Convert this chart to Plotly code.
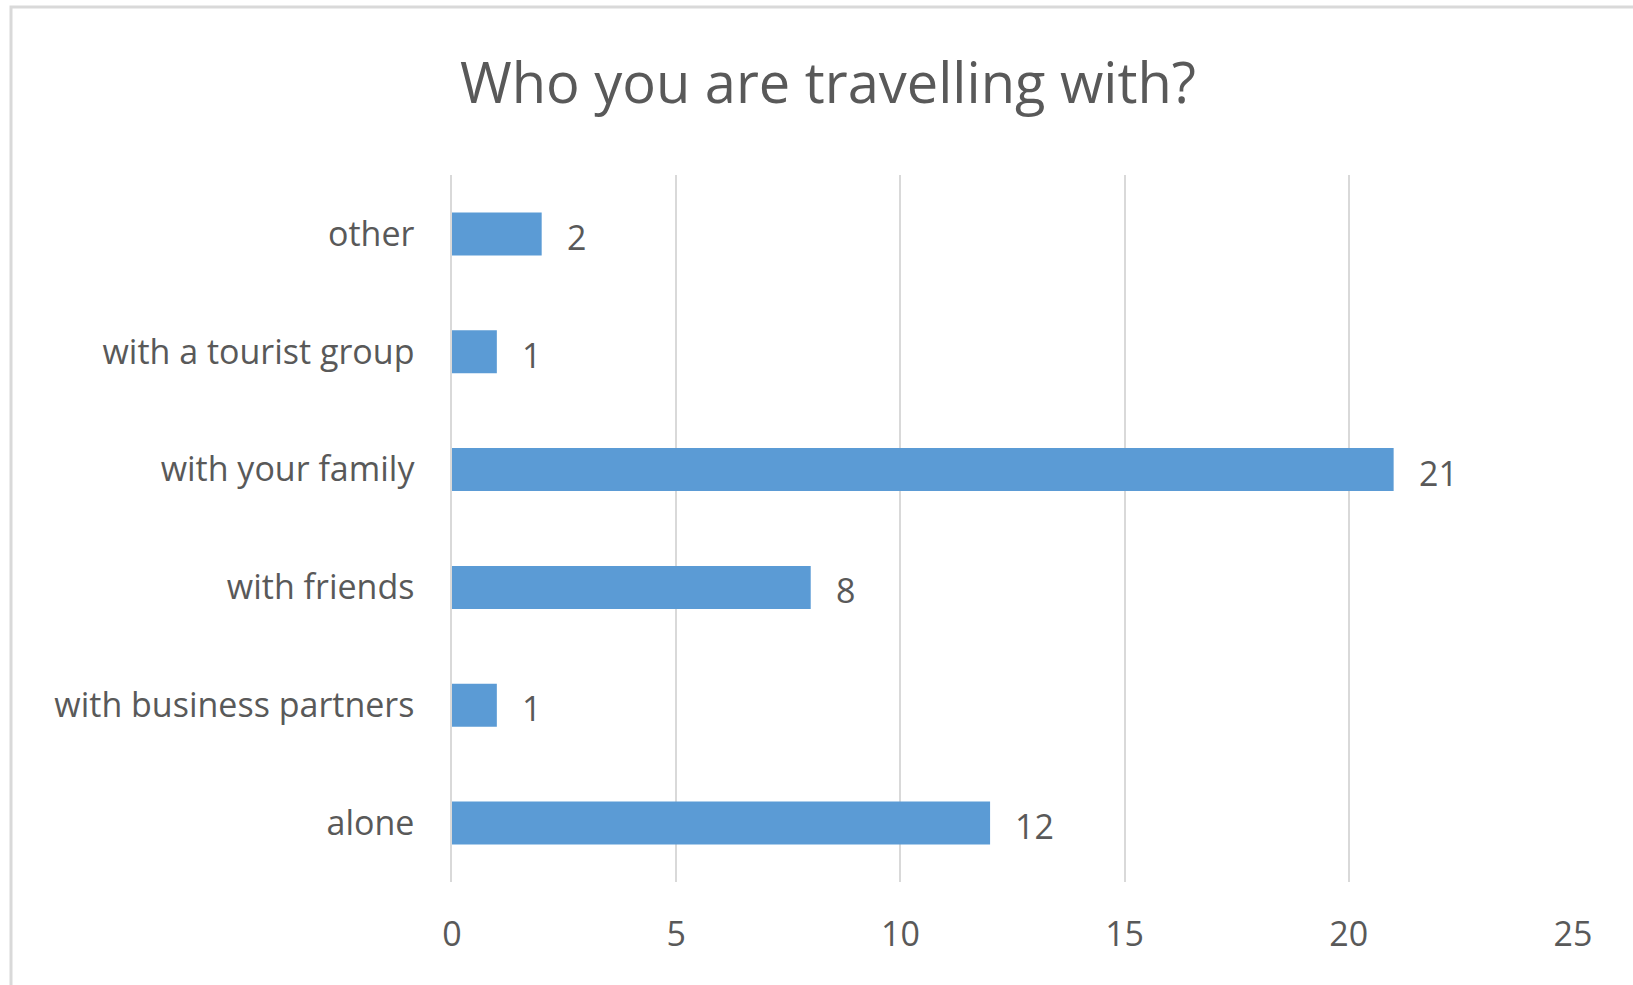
import plotly.graph_objects as go

categories = ["alone", "with business partners", "with friends", "with your family", "with a tourist group", "other"]
values = [12, 1, 8, 21, 1, 2]
x_ticks = [0, 5, 10, 15, 20, 25]
title_text = "Who you are travelling with?"

FONT = "Open Sans, Lato, sans-serif"
TXT = "#595959"
BAR = "#5b9bd5"
GRID = "#d9d9d9"

fig = go.Figure()
fig.add_trace(go.Bar(
    x=values, y=categories, orientation="h",
    marker=dict(color=BAR, line=dict(width=0)),
    hoverinfo="skip",
))

for c, v in zip(categories, values):
    fig.add_annotation(x=v, y=c, text=str(v), showarrow=False,
                       xanchor="left", yanchor="middle", xshift=23, yshift=-3,
                       font=dict(family=FONT, size=34, color=TXT))

fig.add_shape(type="rect", xref="paper", yref="paper",
              x0=-0.3934, x1=2, y0=-1, y1=1.2376,
              line=dict(color=GRID, width=3), fillcolor="rgba(0,0,0,0)", layer="below")

fig.update_layout(
    width=1633, height=985,
    margin=dict(l=452, r=60, t=175, b=103),
    paper_bgcolor="white", plot_bgcolor="white",
    bargap=0.635, showlegend=False,
    title=dict(text=title_text, x=0.507, xanchor="center", y=0.915, yanchor="middle",
               font=dict(family=FONT, size=56, color=TXT)),
    xaxis=dict(range=[0, 25], tickvals=x_ticks, showgrid=True, gridcolor=GRID, gridwidth=1.5,
               zeroline=False, showline=False, ticks="", ticklabelstandoff=29,
               tickfont=dict(family=FONT, size=34, color=TXT)),
    yaxis=dict(categoryorder="array", categoryarray=categories, showgrid=False,
               zeroline=False, showline=True, linecolor=GRID, linewidth=1.5,
               ticks="", ticklabelstandoff=29,
               tickfont=dict(family=FONT, size=34, color=TXT)),
)

fig.write_html("out.html")
